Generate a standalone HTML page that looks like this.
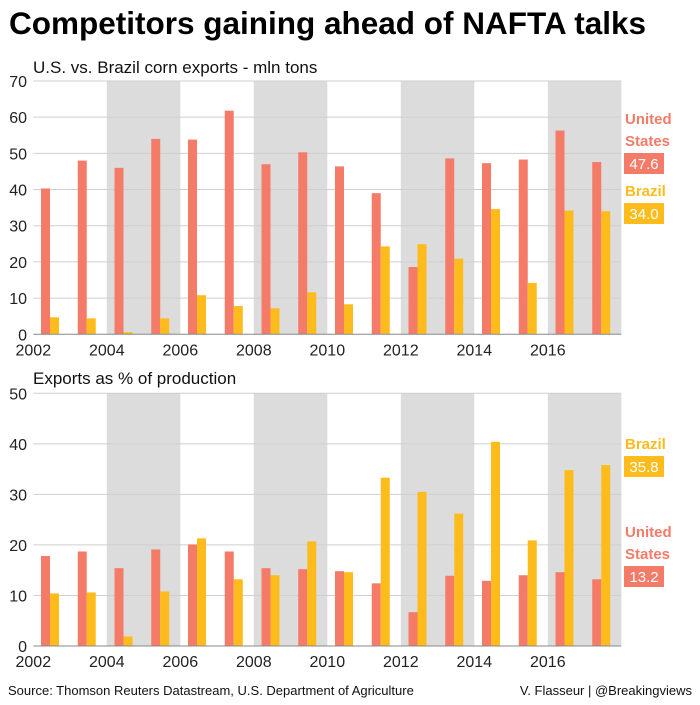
<!DOCTYPE html>
<html><head><meta charset="utf-8"><style>
body{margin:0;background:#fff;width:700px;height:700px;overflow:hidden;font-family:"Liberation Sans",Arial,sans-serif}
svg text{font-family:"Liberation Sans",Arial,sans-serif}
</style></head><body>
<svg id="c" width="700" height="700">
<text x="9" y="34" font-size="31.5" font-weight="bold" fill="#000">Competitors gaining ahead of NAFTA talks</text>
<text x="33" y="73" font-size="17" fill="#111">U.S. vs. Brazil corn exports - mln tons</text>
<text x="33" y="384" font-size="17" fill="#111">Exports as % of production</text>
<text x="8" y="695" font-size="13" fill="#111">Source: Thomson Reuters Datastream, U.S. Department of Agriculture</text>
<text x="692" y="695" font-size="13" fill="#111" text-anchor="end">V. Flasseur | @Breakingviews</text>
</svg>
<script>
const years=[2002,2003,2004,2005,2006,2007,2008,2009,2010,2011,2012,2013,2014,2015,2016,2017];
const usExports=[40.3,48,46,54,53.8,61.8,47,50.3,46.4,39,18.6,48.6,47.3,48.3,56.3,47.6];
const brExports=[4.7,4.4,0.6,4.4,10.8,7.8,7.2,11.6,8.3,24.3,24.9,20.9,34.6,14.2,34.2,34.0];
const usShare=[17.8,18.7,15.4,19.1,20.1,18.7,15.4,15.2,14.8,12.4,6.7,13.9,12.9,14.0,14.6,13.2];
const brShare=[10.4,10.6,1.9,10.8,21.3,13.2,14.0,20.7,14.6,33.3,30.5,26.2,40.4,20.9,34.8,35.8];
const topTicks=[0,10,20,30,40,50,60,70];
const botTicks=[0,10,20,30,40,50];
const xTickLabels=[2002,2004,2006,2008,2010,2012,2014,2016];
const shadeStarts=[2004,2008,2012,2016];
const svg=document.getElementById('c');const NS='http://www.w3.org/2000/svg';
const X0=33.3,STEP=36.75;
const x=yr=>X0+(yr-2002)*STEP;
function mk(t,a,txt){const e=document.createElementNS(NS,t);for(const k in a)e.setAttribute(k,a[k]);if(txt!=null)e.textContent=txt;svg.appendChild(e);return e;}
function panel(name,top,bot,max,ticks,us,br,legend){
  const y=v=>bot-(v/max)*(bot-top);
  shadeStarts.forEach(s=>{const r=mk('rect',{x:x(s),y:top,width:STEP*2,height:bot-top,fill:'#dcdcdc'});
    
    });
  ticks.forEach(t=>{if(t>0){const l=mk('line',{x1:X0,x2:x(2018),y1:y(t),y2:y(t),stroke:'#cfcfcf','stroke-width':1});
    
    }
    const tx=mk('text',{x:27,y:y(t)+6,'font-size':16,'text-anchor':'end',fill:'#222'},t);
    
    });
  years.forEach((yr,i)=>{
    const a=mk('rect',{x:x(yr)+7.7,y:y(us[i]),width:9,height:bot-y(us[i]),fill:'#f47b68'});
    
    
    const b=mk('rect',{x:x(yr)+16.7,y:y(br[i]),width:9,height:bot-y(br[i]),fill:'#fdbc1b'});
    
    
  });
  const ax=mk('line',{x1:X0,x2:x(2018),y1:bot,y2:bot,stroke:'#888','stroke-width':1});
  
  
  xTickLabels.forEach(t=>{const tx=mk('text',{x:x(t),y:bot+21,'font-size':16,'text-anchor':'middle',fill:'#222'},t);
    
    });
  legend.forEach(L=>{
    L.lines.forEach((s,j)=>{const t=mk('text',{x:625,y:L.y+j*22,'font-size':15,'font-weight':'bold',fill:L.c},s);
      
      });
    const by=L.y+(L.lines.length-1)*22+7;
    const r=mk('rect',{x:624,y:by,width:40,height:21,fill:L.c});
    
    
    const v=L.vals[L.vals.length-1];
    const t=mk('text',{x:644,y:by+16,'font-size':15,'text-anchor':'middle',fill:'#fff'},v.toFixed(1));
    
    
  });
}
panel('exports',81,334.3,70,topTicks,usExports,brExports,[
 {lines:['United','States'],y:124,c:'#f47b68',vals:usExports},
 {lines:['Brazil'],y:196,c:'#fdbc1b',vals:brExports}]);
panel('share',393.3,646,50,botTicks,usShare,brShare,[
 {lines:['Brazil'],y:449,c:'#fdbc1b',vals:brShare},
 {lines:['United','States'],y:537,c:'#f47b68',vals:usShare}]);
</script>
</body></html>
